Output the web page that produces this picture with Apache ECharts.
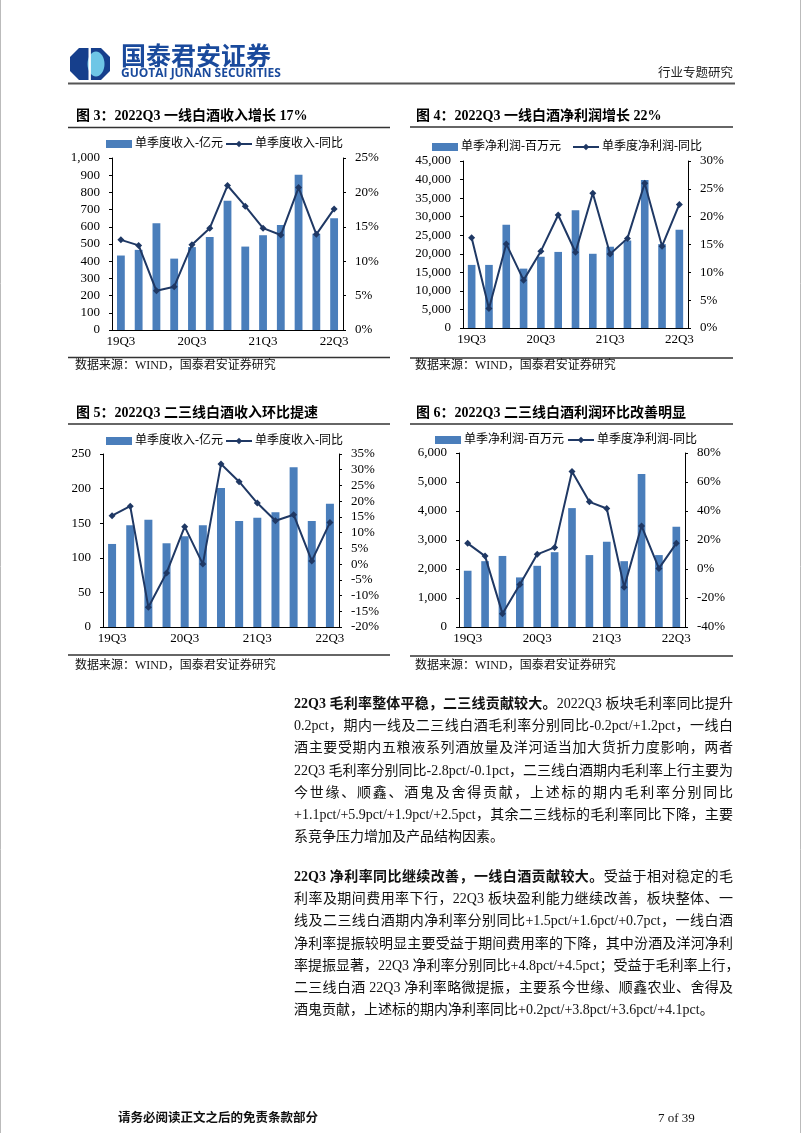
<!DOCTYPE html>
<html>
<head>
<meta charset="utf-8">
<script src="https://cdn.jsdelivr.net/npm/echarts@6/dist/echarts.min.js"></script>
<style>
  html,body{margin:0;padding:0;background:#fff;}
  #page{position:relative;width:802px;height:1133px;overflow:hidden;}
  #chart{position:absolute;left:0;top:0;width:802px;height:1133px;}
  .para{position:absolute;left:294px;width:439px;font-family:"Liberation Serif","Noto Sans CJK SC",serif;font-size:14px;color:#111;}
  .para div{height:22.2px;line-height:22.2px;white-space:nowrap;text-align:justify;text-align-last:justify;}
  .para div.last{text-align-last:left;}
  .para b{font-weight:bold;}
</style>
</head>
<body>
<div id="page">
  <div id="chart"></div>
  <div class="para" style="top:693px;">
    <div><b>22Q3 毛利率整体平稳，二三线贡献较大。</b>2022Q3 板块毛利率同比提升</div>
    <div>0.2pct，期内一线及二三线白酒毛利率分别同比-0.2pct/+1.2pct，一线白</div>
    <div>酒主要受期内五粮液系列酒放量及洋河适当加大货折力度影响，两者</div>
    <div>22Q3 毛利率分别同比-2.8pct/-0.1pct，二三线白酒期内毛利率上行主要为</div>
    <div>今世缘、顺鑫、酒鬼及舍得贡献，上述标的期内毛利率分别同比</div>
    <div>+1.1pct/+5.9pct/+1.9pct/+2.5pct，其余二三线标的毛利率同比下降，主要</div>
    <div class="last">系竞争压力增加及产品结构因素。</div>
  </div>
  <div class="para" style="top:866px;">
    <div><b>22Q3 净利率同比继续改善，一线白酒贡献较大。</b>受益于相对稳定的毛</div>
    <div>利率及期间费用率下行，22Q3 板块盈利能力继续改善，板块整体、一</div>
    <div>线及二三线白酒期内净利率分别同比+1.5pct/+1.6pct/+0.7pct，一线白酒</div>
    <div>净利率提振较明显主要受益于期间费用率的下降，其中汾酒及洋河净利</div>
    <div>率提振显著，22Q3 净利率分别同比+4.8pct/+4.5pct；受益于毛利率上行，</div>
    <div>二三线白酒 22Q3 净利率略微提振，主要系今世缘、顺鑫农业、舍得及</div>
    <div class="last">酒鬼贡献，上述标的期内净利率同比+0.2pct/+3.8pct/+3.6pct/+4.1pct。</div>
  </div>
</div>
<script>
// ---------- data ----------
const quarters = ['19Q3','19Q4','20Q1','20Q2','20Q3','20Q4','21Q1','21Q2','21Q3','21Q4','22Q1','22Q2','22Q3'];

// Fig 3: tier-1 baijiu quarterly revenue (100m yuan) and YoY (%)
const rev1 = [433, 466, 621, 415, 482, 540, 751, 485, 551, 610, 903, 560, 650];
const rev1Yoy = [13.1, 12.3, 5.7, 6.3, 12.4, 14.8, 21.0, 18.0, 14.8, 13.8, 20.7, 13.9, 17.6];

// Fig 4: tier-1 net profit (million yuan) and YoY (%)
const np1 = [17000, 17000, 27800, 16000, 19200, 20500, 31700, 20000, 21900, 23600, 39900, 22600, 26500];
const np1Yoy = [16.2, 3.5, 15.1, 8.6, 13.8, 20.3, 13.6, 24.2, 13.3, 16.1, 26.0, 14.7, 22.2];

// Fig 5: tier-2/3 revenue (100m yuan) and YoY (%)
const rev23 = [120, 147, 155, 121, 131, 147, 201, 153, 158, 166, 231, 153, 178];
const rev23Yoy = [15.4, 18.4, -13.7, -2.8, 11.9, 0.0, 31.8, 26.2, 19.4, 13.8, 15.7, 1.0, 13.2];

// Fig 6: tier-2/3 net profit (million yuan) and YoY (%)
const np23 = [1940, 2270, 2450, 1710, 2110, 2580, 4100, 2480, 2940, 2270, 5280, 2480, 3460];
const np23Yoy = [17.7, 8.9, -30.8, -10.7, 10.1, 14.9, 67.3, 46.3, 41.7, -12.5, 29.7, 0.4, 17.7];

// axis ranges
const axes = [
  {lmin:0, lmax:1000, lint:100, rmin:0, rmax:25, rint:5},
  {lmin:0, lmax:45000, lint:5000, rmin:0, rmax:30, rint:5},
  {lmin:0, lmax:250, lint:50, rmin:-20, rmax:35, rint:5},
  {lmin:0, lmax:6000, lint:1000, rmin:-40, rmax:80, rint:20}
];
const titles = ['图 3：2022Q3 一线白酒收入增长 17%','图 4：2022Q3 一线白酒净利润增长 22%','图 5：2022Q3 二三线白酒收入环比提速','图 6：2022Q3 二三线白酒利润环比改善明显'];
const barNames = ['单季度收入-亿元','单季净利润-百万元','单季度收入-亿元','单季净利润-百万元'];
const lineNames = ['单季度收入-同比','单季度净利润-同比','单季度收入-同比','单季度净利润-同比'];
const barData = [rev1, np1, rev23, np23];
const lineData = [rev1Yoy, np1Yoy, rev23Yoy, np23Yoy];
const source = '数据来源：WIND，国泰君安证券研究';

// ---------- layout ----------
const serif = '"Liberation Serif","Noto Sans CJK SC",serif';
const BAR = '#4a7ebb';
const LINE = '#1f3864';
const grids = [
  {left:112, top:158, width:231, height:172},
  {left:463, top:161, width:225, height:167},
  {left:103, top:454, width:236, height:173},
  {left:459, top:453, width:226, height:174}
];
const frames = [
  {x0:68, x1:390, tx:76, ty:118, ul:127.5, bl:357.5, sy:367, lx:106, ly:138, gap:2},
  {x0:410, x1:733, tx:416, ty:118, ul:127, bl:358, sy:367, lx:432, ly:141, gap:11},
  {x0:68, x1:390, tx:76, ty:415, ul:424, bl:655, sy:667, lx:106, ly:435, gap:2},
  {x0:410, x1:733, tx:416, ty:415, ul:424, bl:656, sy:667, lx:435, ly:434, gap:3}
];

const chart = echarts.init(document.getElementById('chart'), null, {renderer:'canvas'});

const xAxis = [], yAxis = [], series = [], legend = [], graphic = [];
grids.forEach((g, i) => {
  const a = axes[i];
  xAxis.push({
    type:'category', gridIndex:i, data:quarters, boundaryGap:true,
    axisLine:{lineStyle:{color:'#000', width:1}},
    axisTick:{show:false},
    axisLabel:{interval:3, color:'#000', fontFamily:serif, fontSize:13, margin:5}
  });
  yAxis.push({
    type:'value', gridIndex:i, min:a.lmin, max:a.lmax, interval:a.lint,
    axisLine:{show:true, lineStyle:{color:'#000', width:1}},
    axisTick:{show:true, length:3, lineStyle:{color:'#000'}},
    splitLine:{show:false},
    axisLabel:{color:'#000', fontFamily:serif, fontSize:13, margin:12,
      formatter:v => v.toLocaleString('en-US')}
  });
  yAxis.push({
    type:'value', gridIndex:i, position:'right', min:a.rmin, max:a.rmax, interval:a.rint,
    axisLine:{show:true, lineStyle:{color:'#000', width:1}},
    axisTick:{show:true, length:3, lineStyle:{color:'#000'}},
    splitLine:{show:false},
    axisLabel:{color:'#000', fontFamily:serif, fontSize:13, margin:12, formatter:'{value}%'}
  });
  series.push({
    name:barNames[i], type:'bar', xAxisIndex:i, yAxisIndex:2*i, data:barData[i],
    barWidth:'44%', itemStyle:{color:BAR}
  });
  series.push({
    name:lineNames[i], type:'line', xAxisIndex:i, yAxisIndex:2*i+1, data:lineData[i],
    symbol:'diamond', symbolSize:7, lineStyle:{color:LINE, width:2},
    itemStyle:{color:LINE}, z:5
  });
  const f = frames[i];
  legend.push({
    left:f.lx, top:f.ly, padding:0, itemGap:f.gap, itemWidth:26, itemHeight:8,
    textStyle:{fontFamily:serif, fontSize:12, color:'#000', padding:[0,0,0,-2]},
    selectedMode:false,
    data:[{name:barNames[i], icon:'rect', itemStyle:{color:BAR}}, {name:lineNames[i]}]
  });
  graphic.push({type:'text', left:f.tx, top:f.ty - 9, style:{text:titles[i], font:'bold 14px ' + serif, fill:'#000'}});
  graphic.push({type:'line', shape:{x1:f.x0, y1:f.ul, x2:f.x1, y2:f.ul}, style:{stroke:'#333', lineWidth:1.5}});
  graphic.push({type:'line', shape:{x1:f.x0, y1:f.bl, x2:f.x1, y2:f.bl}, style:{stroke:'#333', lineWidth:1.5}});
  graphic.push({type:'text', left:f.tx - 1, top:f.sy - 7, style:{text:source, font:'12px ' + serif, fill:'#111'}});
});

// header & footer
graphic.push(
  {type:'polygon', shape:{points:[[79,48],[101,48],[110,57],[110,71],[101,80],[79,80],[70,71],[70,57]]}, style:{fill:'#163f8c'}},
  {type:'ellipse', shape:{cx:96, cy:64, rx:8.5, ry:12.5}, style:{fill:'#6ec6e6'}},
  {type:'rect', shape:{x:88.5, y:48, width:2.4, height:32}, style:{fill:'#fff'}},
  {type:'text', left:121, top:43, style:{text:'国泰君安证券', font:'bold 25px "Noto Sans CJK SC"', fill:'#1a4a9c'}},
  {type:'text', left:121, top:68, style:{text:'GUOTAI JUNAN SECURITIES', font:'bold 12px "Open Sans"', fill:'#1a4a9c'}},
  {type:'text', right:69, top:66, style:{text:'行业专题研究', font:'12.5px "Noto Sans CJK SC"', fill:'#222'}},
  {type:'line', shape:{x1:68, y1:83.5, x2:735, y2:83.5}, style:{stroke:'#555', lineWidth:2}},
  {type:'line', shape:{x1:0.5, y1:0, x2:0.5, y2:1133}, style:{stroke:'#bbb', lineWidth:1}},
  {type:'line', shape:{x1:800.5, y1:0, x2:800.5, y2:1133}, style:{stroke:'#bbb', lineWidth:1}},
  {type:'text', left:118, top:1111, style:{text:'请务必阅读正文之后的免责条款部分', font:'bold 12.5px "Noto Sans CJK SC"', fill:'#111'}},
  {type:'text', left:658, top:1112, style:{text:'7 of 39', font:'13px ' + serif, fill:'#111'}}
);

chart.setOption({
  animation:false,
  grid:grids.map(g => Object.assign({containLabel:false}, g)),
  xAxis, yAxis, series, legend, graphic
});
</script>
</body>
</html>
